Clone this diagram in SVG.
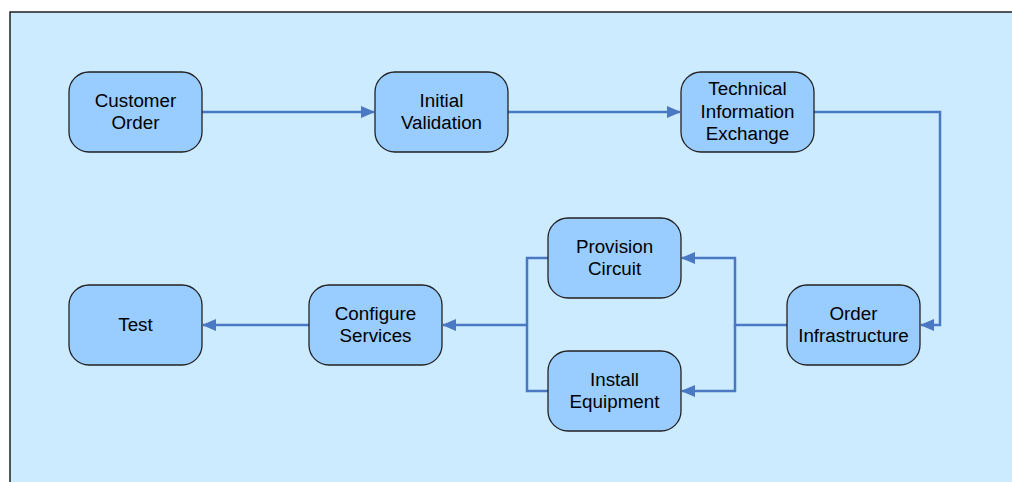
<svg xmlns="http://www.w3.org/2000/svg" width="1012" height="482" viewBox="0 0 1012 482">
<style>
.node rect{fill:#99CCFF;stroke:#222;stroke-width:1.3}
.node text{font-family:"Liberation Sans",Arial,sans-serif;font-size:18.8px;fill:#000;text-anchor:middle}
.conn{fill:none;stroke:#4A78C2;stroke-width:2.5}
</style>
<defs>
<marker id="ah" markerWidth="14" markerHeight="12" refX="13" refY="6" orient="auto" markerUnits="userSpaceOnUse">
<path d="M0,0 L14,6 L0,12 Z" fill="#4A78C2"/>
</marker>
</defs>
<rect x="0" y="0" width="1012" height="482" fill="#fff"/>
<rect x="10" y="12" width="1010" height="480" fill="#CCEBFF" stroke="#000" stroke-width="1.3"/>
<g id="connectors">
<path class="conn" d="M202,112 H374" marker-end="url(#ah)"/>
<path class="conn" d="M508,112 H680" marker-end="url(#ah)"/>
<path class="conn" d="M814,112 H940 V325 H921" marker-end="url(#ah)"/>
<path class="conn" d="M787,325 H735 V258 H682" marker-end="url(#ah)"/>
<path class="conn" d="M735,325 V391 H682" marker-end="url(#ah)"/>
<path class="conn" d="M548,258 H527 V391 H548"/>
<path class="conn" d="M527,325 H443" marker-end="url(#ah)"/>
<path class="conn" d="M309,325 H203" marker-end="url(#ah)"/>
</g>
<g id="customer-order" class="node"><rect x="69" y="72" width="133" height="80" rx="20"/><text x="135.5" y="106.5">Customer</text><text x="135.5" y="129">Order</text></g>
<g id="initial-validation" class="node"><rect x="375" y="72" width="133" height="80" rx="20"/><text x="441.5" y="106.5">Initial</text><text x="441.5" y="129">Validation</text></g>
<g id="technical-information-exchange" class="node"><rect x="681" y="72" width="133" height="80" rx="20"/><text x="747.5" y="95">Technical</text><text x="747.5" y="117.5">Information</text><text x="747.5" y="140">Exchange</text></g>
<g id="provision-circuit" class="node"><rect x="548" y="218" width="133" height="80" rx="20"/><text x="614.5" y="252.5">Provision</text><text x="614.5" y="275">Circuit</text></g>
<g id="install-equipment" class="node"><rect x="548" y="351" width="133" height="80" rx="20"/><text x="614.5" y="385.5">Install</text><text x="614.5" y="408">Equipment</text></g>
<g id="order-infrastructure" class="node"><rect x="787" y="285" width="133" height="80" rx="20"/><text x="853.5" y="319.5">Order</text><text x="853.5" y="342">Infrastructure</text></g>
<g id="configure-services" class="node"><rect x="309" y="285" width="133" height="80" rx="20"/><text x="375.5" y="319.5">Configure</text><text x="375.5" y="342">Services</text></g>
<g id="test" class="node"><rect x="69" y="285" width="133" height="80" rx="20"/><text x="135.5" y="331">Test</text></g>
</svg>
